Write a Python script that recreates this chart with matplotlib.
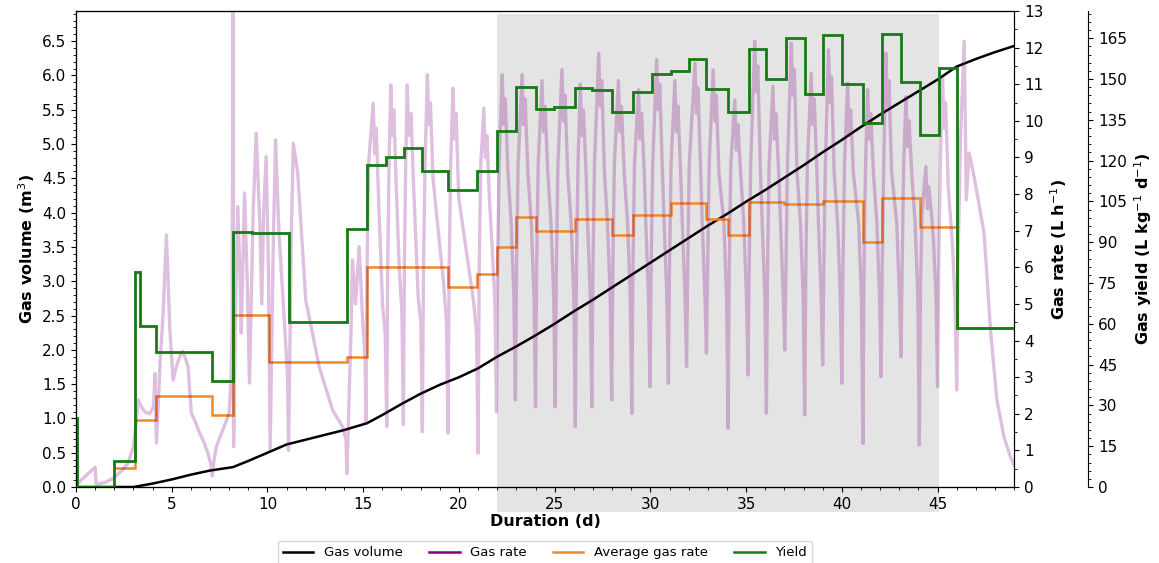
import matplotlib
matplotlib.use('Agg')
import matplotlib.pyplot as plt
from matplotlib.lines import Line2D
from matplotlib.ticker import MultipleLocator

# Gas volume, cumulative (m3)
vol_days = [0, 2, 3, 4, 5, 6, 7, 8.2, 9, 10, 11, 12, 13, 14, 15.2, 16, 17, 18, 19, 20, 21,
            22, 23, 24, 25, 26, 27, 28, 29, 30, 31, 32, 33, 34, 35, 36, 37, 38, 39, 40,
            41, 42, 43, 44, 45, 46, 47, 48, 49]
vol_vals = [0, 0, 0.0, 0.05, 0.11, 0.18, 0.24, 0.29, 0.38, 0.50, 0.62, 0.69, 0.76, 0.83, 0.93,
            1.05, 1.21, 1.36, 1.49, 1.60, 1.73,
            1.90, 2.05, 2.21, 2.38, 2.56, 2.73, 2.91, 3.09, 3.27, 3.45, 3.63, 3.81, 3.98, 4.16,
            4.33, 4.51, 4.69, 4.88, 5.06, 5.25, 5.43, 5.60, 5.77, 5.94, 6.13, 6.24, 6.34, 6.43]

# Gas rate (L/h), raw logger signal (one row per feeding cycle after day 15)
rate_days = [0.00, 0.50, 1.00, 1.05, 1.50, 1.95, 2.40, 2.72, 2.99, 3.15, 3.25, 3.40, 3.60, 3.85,
             4.05, 4.12, 4.20, 4.40, 4.55, 4.72, 4.82, 4.90, 5.07, 5.24, 5.45, 5.59, 5.72, 5.85,
             6.02, 6.25, 6.46, 6.70, 6.89, 7.05, 7.12, 7.20, 7.33, 7.67, 8.00, 8.10, 8.15, 8.20,
             8.23, 8.35, 8.45, 8.55, 8.63, 8.80, 8.95, 9.06, 9.25, 9.41, 9.60, 9.70, 9.80, 9.93,
             10.05, 10.14, 10.30, 10.42, 10.60, 10.90, 11.05, 11.10, 11.25, 11.35, 11.58, 12.00,
             12.70, 13.40, 13.92, 14.10, 14.15, 14.36, 14.44, 14.60, 14.79, 14.97, 15.10,
             15.14, 15.20, 15.28, 15.52, 15.60, 15.68, 15.82, 16.01, 16.15,
             16.23, 16.28, 16.35, 16.44, 16.52, 16.60, 16.74, 16.88, 17.02,
             17.10, 17.15, 17.22, 17.30, 17.38, 17.50, 17.62, 17.87, 18.01,
             18.09, 18.15, 18.23, 18.35, 18.43, 18.51, 18.65, 19.21, 19.35,
             19.43, 19.49, 19.57, 19.69, 19.77, 19.85, 19.99, 20.78, 20.92,
             21.00, 21.06, 21.14, 21.30, 21.38, 21.46, 21.60, 21.74, 21.88,
             21.96, 22.02, 22.10, 22.26, 22.34, 22.42, 22.56, 22.73, 22.87,
             22.95, 23.01, 23.09, 23.30, 23.38, 23.46, 23.60, 23.78, 23.92,
             24.00, 24.06, 24.14, 24.34, 24.42, 24.50, 24.64, 24.81, 24.95,
             25.03, 25.09, 25.17, 25.38, 25.46, 25.54, 25.68, 25.86, 26.00,
             26.08, 26.14, 26.22, 26.34, 26.42, 26.50, 26.64, 26.72, 26.86,
             26.94, 27.00, 27.08, 27.30, 27.38, 27.46, 27.60, 27.76, 27.90,
             27.98, 28.04, 28.12, 28.33, 28.41, 28.49, 28.63, 28.81, 28.95,
             29.03, 29.09, 29.17, 29.38, 29.46, 29.54, 29.68, 29.76, 29.90,
             29.98, 30.04, 30.12, 30.33, 30.41, 30.49, 30.63, 30.72, 30.86,
             30.94, 31.00, 31.08, 31.28, 31.36, 31.44, 31.58, 31.67, 31.81,
             31.89, 31.95, 32.03, 32.33, 32.41, 32.49, 32.63, 32.71, 32.85,
             32.93, 32.99, 33.07, 33.28, 33.36, 33.44, 33.58, 33.84, 33.98,
             34.06, 34.12, 34.20, 34.41, 34.49, 34.57, 34.71, 34.88, 35.02,
             35.10, 35.16, 35.24, 35.45, 35.53, 35.61, 35.75, 35.84, 35.98,
             36.06, 36.12, 36.20, 36.40, 36.48, 36.56, 36.70, 36.80, 36.94,
             37.02, 37.08, 37.16, 37.36, 37.44, 37.52, 37.66, 37.84, 37.98,
             38.06, 38.12, 38.20, 38.40, 38.48, 38.56, 38.70, 38.78, 38.92,
             39.00, 39.06, 39.14, 39.30, 39.38, 39.46, 39.60, 39.78, 39.92,
             40.00, 40.06, 40.14, 40.30, 40.38, 40.46, 40.60, 40.88, 41.02,
             41.10, 41.16, 41.24, 41.35, 41.43, 41.51, 41.65, 41.83, 41.97,
             42.05, 42.11, 42.19, 42.30, 42.38, 42.46, 42.60, 42.87, 43.01,
             43.09, 43.15, 43.23, 43.35, 43.43, 43.51, 43.65, 43.83, 43.97,
             44.05, 44.11, 44.19, 44.39, 44.47, 44.55, 44.69, 44.78, 44.92,
             45.00, 45.06, 45.14, 45.26, 45.34, 45.42, 45.56, 45.78, 45.92,
             46.00, 46.06, 46.20, 46.39, 46.45, 46.50, 46.65, 46.90, 47.43, 47.78, 48.10,
             48.47, 48.80, 49.00]
rate_vals = [0.05, 0.30, 0.54, 0.07, 0.12, 0.24, 0.45, 0.65, 1.10, 1.80, 2.38, 2.20, 2.05, 2.00,
             2.20, 3.10, 1.20, 3.50, 4.75, 6.88, 5.50, 4.30, 2.92, 3.29, 3.60, 3.70, 3.50, 3.29,
             2.02, 1.75, 1.47, 1.20, 0.92, 0.60, 0.30, 0.70, 1.10, 1.56, 2.02, 3.00, 4.30, 13.50,
             1.10, 5.50, 7.66, 6.00, 4.20, 8.03, 5.50, 2.84, 7.50, 9.66, 7.20, 5.00, 7.50, 9.02,
             6.00, 1.00, 6.50, 9.48, 6.94, 4.38, 3.00, 1.00, 7.00, 9.39, 8.57, 5.10,
             3.29, 2.10, 1.65, 1.30, 0.37, 4.20, 6.20, 5.00, 6.57, 4.56, 3.50,
             1.74, 6.0, 8.8, 10.48, 9.1, 9.8, 7.6, 5.0, 4.2,
             1.65, 6.0, 8.8, 10.98, 9.6, 10.3, 8.0, 6.0, 4.8,
             1.70, 6.0, 8.8, 10.98, 9.6, 10.2, 8.4, 5.2, 4.5,
             1.51, 6.0, 8.8, 11.26, 9.9, 10.5, 8.4, 5.5, 4.5,
             1.47, 6.0, 8.8, 10.89, 9.5, 10.2, 7.9, 5.0, 4.2,
             0.92, 6.0, 8.8, 10.35, 9.0, 9.6, 7.8, 6.5, 5.0,
             2.06, 6.0, 8.8, 11.26, 9.9, 10.6, 8.6, 7.2, 5.2,
             2.38, 6.0, 8.8, 11.26, 9.9, 10.6, 8.6, 7.2, 5.2,
             2.19, 6.0, 8.8, 11.10, 9.7, 10.4, 8.6, 7.2, 5.2,
             2.19, 6.0, 8.8, 11.40, 10.0, 10.7, 8.6, 7.2, 5.2,
             1.65, 6.0, 8.8, 11.00, 9.6, 10.3, 8.6, 7.2, 5.2,
             2.19, 6.0, 8.8, 11.85, 10.4, 11.1, 8.6, 7.2, 5.2,
             2.38, 6.0, 8.8, 11.10, 9.7, 10.4, 8.6, 7.2, 5.2,
             2.01, 6.0, 8.8, 10.85, 9.5, 10.2, 8.6, 7.2, 5.2,
             2.74, 6.0, 8.8, 11.67, 10.3, 11.0, 8.6, 7.2, 5.2,
             2.83, 6.0, 8.8, 11.10, 9.7, 10.4, 8.6, 7.2, 5.2,
             3.29, 6.0, 8.8, 11.57, 10.2, 10.9, 8.6, 7.2, 5.2,
             3.65, 6.0, 8.8, 11.39, 10.0, 10.7, 8.6, 7.2, 5.2,
             1.60, 6.0, 8.8, 10.57, 9.2, 9.9, 8.6, 7.2, 5.2,
             3.06, 6.0, 8.8, 12.17, 10.8, 11.5, 8.6, 7.2, 5.2,
             2.01, 6.0, 8.8, 10.94, 9.5, 10.2, 8.6, 7.2, 5.2,
             3.74, 6.0, 8.8, 12.12, 10.7, 11.4, 8.6, 7.2, 5.2,
             1.97, 6.0, 8.8, 11.30, 9.9, 10.6, 8.6, 7.2, 5.2,
             3.33, 6.0, 8.8, 11.94, 10.5, 11.2, 8.6, 7.2, 5.2,
             2.83, 6.0, 8.8, 11.03, 9.6, 10.3, 8.6, 7.2, 5.2,
             1.19, 6.0, 8.8, 10.85, 9.5, 10.2, 8.6, 7.2, 5.2,
             3.01, 6.0, 8.8, 11.85, 10.4, 11.1, 8.6, 7.2, 5.2,
             3.56, 6.0, 8.8, 10.66, 9.3, 10.0, 8.6, 7.2, 5.2,
             1.15, 5.5, 7.5, 8.75, 7.6, 8.2, 7.4, 6.8, 5.2,
             2.74, 6.0, 8.8, 11.21, 9.8, 10.5, 8.2, 6.6, 5.0,
             2.65, 6.0, 9.5, 12.17, 10.0, 7.84, 9.12, 8.50, 6.94, 4.20, 2.38,
             1.37, 0.83, 0.60]

# Average gas rate per feeding period (L/h), step edges in days
avg_edges = [2.0, 3.1, 4.17, 7.12, 8.2, 10.1, 14.15, 15.2, 19.43, 20.95, 22.0, 23.0, 24.05,
             26.08, 28.0, 29.08, 31.08, 32.93, 34.06, 35.16, 37.0, 39.0, 41.1, 42.1, 44.08,
             46.0, 49]
avg_vals = [0.51, 1.83, 2.49, 1.96, 4.70, 3.42, 3.56, 6.02, 5.47, 5.81, 6.55, 7.36, 6.98,
            7.31, 6.88, 7.43, 7.75, 7.31, 6.89, 7.78, 7.73, 7.81, 6.69, 7.88, 7.09, 4.35]

# Gas yield (L/kg/d), step edges in days
yield_edges = [0, 0.03, 2.0, 3.1, 3.33, 4.17, 7.12, 8.2, 9.17, 11.1, 14.15, 15.2, 16.18, 17.14,
               18.05, 19.43, 20.95, 22.0, 23.0, 24.05, 24.98, 26.08, 26.97, 28.0, 29.08, 30.07,
               31.08, 32.0, 32.93, 34.06, 35.16, 36.06, 37.07, 38.06, 39.0, 40.0, 41.13, 42.1,
               43.09, 44.08, 45.05, 46.0, 49]
yield_vals = [25.3, 0, 9.5, 79.2, 59.2, 49.8, 39.1, 93.9, 93.3, 60.6, 94.9, 118.4, 121.5,
              124.8, 116.2, 109.2, 116.3, 130.9, 147.0, 139.0, 139.8, 146.8, 146.0, 138.0,
              145.1, 151.7, 153.0, 157.3, 146.3, 138.0, 160.9, 150.1, 165.0, 144.4, 166.0,
              148.1, 134.0, 166.6, 149.0, 129.4, 154.0, 58.6]

steady_start, steady_end = 22.0, 45.05

fs = 11
lab = 11.5
orange = '#ee8a24'
green = '#167a16'

fig, ax = plt.subplots(figsize=(11.59, 5.63), dpi=100)
fig.subplots_adjust(left=0.0656, right=0.875, bottom=0.135, top=0.9805)

ax2 = ax.twinx()
ax3 = ax.twinx()
ax3.spines['right'].set_position(('axes', 1.079))

# grey window (reaches down into the tick labels)
ax.axvspan(steady_start, steady_end, ymin=-0.053, ymax=0.994, color='#e4e4e4', lw=0,
           clip_on=False, zorder=0)

ax.plot(vol_days, vol_vals, color='black', lw=1.8, zorder=3)
ax2.plot(rate_days, rate_vals, color='purple', alpha=0.25, lw=2.4)
ax2.stairs(avg_vals, avg_edges, baseline=None, color=orange, lw=1.8)
ax3.stairs(yield_vals, yield_edges, baseline=None, color=green, lw=2.0)

ax.set_xlim(0, 49)
ax.set_ylim(0, 6.94)
ax2.set_ylim(0, 13)
ax3.set_ylim(0, 175)

ax.xaxis.set_major_locator(MultipleLocator(5))
ax.xaxis.set_minor_locator(MultipleLocator(1))
ax.yaxis.set_major_locator(MultipleLocator(0.5))
ax.yaxis.set_minor_locator(MultipleLocator(0.1))
ax2.yaxis.set_major_locator(MultipleLocator(1))
ax2.yaxis.set_minor_locator(MultipleLocator(0.5))
ax3.yaxis.set_major_locator(MultipleLocator(15))
ax3.yaxis.set_minor_locator(MultipleLocator(3))

for a in (ax, ax2, ax3):
    a.tick_params(axis='both', which='major', labelsize=fs)

ax.set_xlabel('Duration (d)', fontsize=lab, fontweight='bold', labelpad=2)
ax.set_ylabel('Gas volume (m$^3$)', fontsize=lab, fontweight='bold')
ax2.set_ylabel('Gas rate (L h$^{-1}$)', fontsize=lab, fontweight='bold')
ax3.set_ylabel('Gas yield (L kg$^{-1}$ d$^{-1}$)', fontsize=lab, fontweight='bold')

handles = [Line2D([], [], color='black', lw=1.8),
           Line2D([], [], color='purple', lw=1.8),
           Line2D([], [], color=orange, lw=1.8),
           Line2D([], [], color=green, lw=1.8)]
labels = ['Gas volume', 'Gas rate', 'Average gas rate', 'Yield']
ax3.legend(handles, labels, loc='upper center', bbox_to_anchor=(0.5, -0.1), ncol=4,
           fontsize=9.5, handlelength=2.3, columnspacing=2.0)

plt.savefig('out.png', dpi=100)
